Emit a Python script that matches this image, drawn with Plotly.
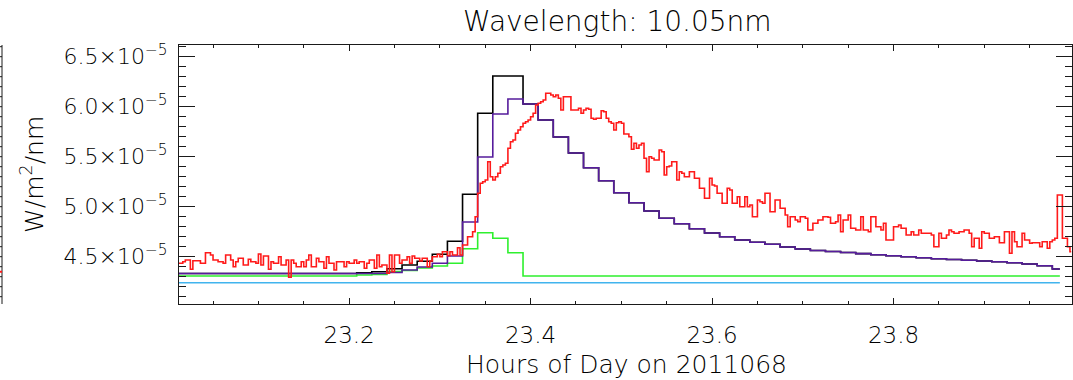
import numpy as np
import plotly.graph_objects as go

# ---------------------------------------------------------------
# Irradiance at 10.05 nm, 2011 day 068, last hour of the day.
# Values are in units of 1e-5 W/m^2/nm.
# ---------------------------------------------------------------
UNIT = 1e-5

# 10-second measurements (red), first sample at 23:00:45
red_t0 = 23.0125
red_dt = 10.0 / 3600.0
red_vals = [
    4.434, 4.434, 4.450, 4.467, 4.467, 4.374, 4.460, 4.460, 4.460, 4.434,
    4.434, 4.540, 4.540, 4.517, 4.467, 4.467, 4.450, 4.450, 4.434, 4.517,
    4.517, 4.467, 4.400, 4.450, 4.484, 4.484, 4.417, 4.417, 4.474, 4.450,
    4.450, 4.434, 4.527, 4.417, 4.507, 4.507, 4.374, 4.450, 4.434, 4.434,
    4.500, 4.417, 4.417, 4.467, 4.294, 4.467, 4.434, 4.400, 4.400, 4.450,
    4.400, 4.467, 4.517, 4.400, 4.400, 4.484, 4.450, 4.450, 4.384, 4.500,
    4.434, 4.434, 4.367, 4.450, 4.450, 4.450, 4.400, 4.450, 4.434, 4.434,
    4.467, 4.434, 4.450, 4.450, 4.384, 4.434, 4.467, 4.467, 4.384, 4.517,
    4.400, 4.417, 4.417, 4.334, 4.517, 4.350, 4.517, 4.517, 4.434, 4.467,
    4.467, 4.500, 4.434, 4.507, 4.484, 4.484, 4.457, 4.484, 4.484, 4.400,
    4.457, 4.500, 4.500, 4.524, 4.500, 4.550, 4.550, 4.510, 4.550, 4.517,
    4.517, 4.590, 4.517, 4.617, 4.617, 4.700, 4.700, 4.750, 4.900, 5.134,
    5.234, 5.250, 5.267, 5.450, 5.300, 5.267, 5.300, 5.334, 5.400, 5.417,
    5.434, 5.584, 5.650, 5.667, 5.734, 5.767, 5.800, 5.834, 5.850, 5.867,
    5.900, 5.934, 6.017, 6.034, 6.050, 6.067, 6.134, 6.134, 6.117, 6.100,
    6.117, 6.084, 5.967, 6.100, 6.100, 6.100, 5.967, 5.967, 5.967, 5.984,
    5.934, 5.967, 5.984, 5.974, 5.884, 5.874, 5.884, 5.884, 5.960, 5.950,
    5.884, 5.850, 5.834, 5.767, 5.840, 5.850, 5.834, 5.727, 5.727, 5.700,
    5.574, 5.634, 5.584, 5.617, 5.634, 5.484, 5.350, 5.500, 5.484, 5.467,
    5.467, 5.567, 5.550, 5.317, 5.400, 5.407, 5.450, 5.450, 5.267, 5.350,
    5.334, 5.300, 5.300, 5.350, 5.350, 5.284, 5.284, 5.184, 5.184, 5.084,
    5.084, 5.284, 5.217, 5.207, 5.134, 5.134, 5.034, 5.034, 5.184, 5.167,
    5.034, 5.034, 5.100, 5.000, 5.000, 5.100, 5.000, 5.017, 4.900, 4.900,
    5.067, 5.050, 5.034, 5.134, 5.134, 4.950, 4.950, 5.067, 5.067, 4.984,
    4.984, 4.917, 4.800, 4.900, 4.900, 4.867, 4.850, 4.900, 4.900, 4.884,
    4.767, 4.767, 4.834, 4.834, 4.867, 4.867, 4.900, 4.900, 4.894, 4.834,
    4.834, 4.850, 4.917, 4.750, 4.867, 4.867, 4.917, 4.784, 4.784, 4.767,
    4.767, 4.900, 4.767, 4.767, 4.750, 4.900, 4.900, 4.800, 4.800, 4.767,
    4.834, 4.667, 4.667, 4.667, 4.800, 4.800, 4.817, 4.784, 4.784, 4.717,
    4.717, 4.750, 4.717, 4.717, 4.767, 4.734, 4.734, 4.734, 4.734, 4.717,
    4.600, 4.600, 4.734, 4.684, 4.684, 4.717, 4.767, 4.750, 4.734, 4.734,
    4.750, 4.750, 4.767, 4.767, 4.734, 4.600, 4.684, 4.684, 4.584, 4.750,
    4.734, 4.734, 4.684, 4.684, 4.700, 4.700, 4.640, 4.640, 4.750, 4.750,
    4.534, 4.750, 4.650, 4.600, 4.600, 4.734, 4.667, 4.667, 4.634, 4.640,
    4.640, 4.640, 4.600, 4.650, 4.650, 4.584, 4.650, 4.667, 4.684, 5.117,
    5.117, 4.684, 4.684, 4.600, 4.550,
]

# One-minute series, 23:00 ... 23:59
min_t0 = 23.0
min_dt = 1.0 / 60.0
black_vals = [
    4.332, 4.332, 4.332, 4.332, 4.332, 4.332, 4.332, 4.332, 4.332, 4.332,
    4.332, 4.332, 4.332, 4.340, 4.350, 4.379, 4.417, 4.454, 4.525, 4.654,
    5.124, 5.934, 6.307, 6.307, 6.027, 5.867, 5.697, 5.537, 5.390, 5.260,
    5.140, 5.040, 4.957, 4.884, 4.830, 4.780, 4.737, 4.700, 4.667, 4.644,
    4.624, 4.597, 4.577, 4.562, 4.552, 4.542, 4.531, 4.519, 4.509, 4.499,
    4.489, 4.480, 4.472, 4.464, 4.457, 4.450, 4.440, 4.427, 4.410, 4.377,
]
purple_vals = [
    4.332, 4.332, 4.332, 4.332, 4.332, 4.332, 4.332, 4.332, 4.332, 4.332,
    4.332, 4.332, 4.332, 4.332, 4.332, 4.342, 4.367, 4.397, 4.434, 4.507,
    4.847, 5.497, 5.927, 6.077, 6.027, 5.867, 5.697, 5.537, 5.390, 5.260,
    5.140, 5.040, 4.957, 4.884, 4.830, 4.780, 4.737, 4.700, 4.667, 4.644,
    4.624, 4.597, 4.577, 4.562, 4.552, 4.542, 4.531, 4.519, 4.509, 4.499,
    4.489, 4.480, 4.472, 4.464, 4.457, 4.450, 4.440, 4.427, 4.410, 4.377,
]
green_vals = [
    4.307, 4.307, 4.307, 4.307, 4.307, 4.307, 4.307, 4.307, 4.307, 4.307,
    4.307, 4.307, 4.307, 4.317, 4.322, 4.352, 4.362, 4.387, 4.407, 4.434,
    4.580, 4.740, 4.684, 4.540, 4.307, 4.307, 4.307, 4.307, 4.307, 4.307,
    4.307, 4.307, 4.307, 4.307, 4.307, 4.307, 4.307, 4.307, 4.307, 4.307,
    4.307, 4.307, 4.307, 4.307, 4.307, 4.307, 4.307, 4.307, 4.307, 4.307,
    4.307, 4.307, 4.307, 4.307, 4.307, 4.307, 4.307, 4.307, 4.307, 4.307,
]
cyan_vals = [
    4.239, 4.239, 4.239, 4.239, 4.239, 4.239, 4.239, 4.239, 4.239, 4.239,
    4.239, 4.239, 4.239, 4.239, 4.239, 4.239, 4.239, 4.239, 4.239, 4.239,
    4.239, 4.239, 4.239, 4.239, 4.239, 4.239, 4.239, 4.239, 4.239, 4.239,
    4.239, 4.239, 4.239, 4.239, 4.239, 4.239, 4.239, 4.239, 4.239, 4.239,
    4.239, 4.239, 4.239, 4.239, 4.239, 4.239, 4.239, 4.239, 4.239, 4.239,
    4.239, 4.239, 4.239, 4.239, 4.239, 4.239, 4.239, 4.239, 4.239, 4.239,
]

x_tick_vals = [23.2, 23.4, 23.6, 23.8]
x_tick_text = ["23.2", "23.4", "23.6", "23.8"]
y_tick_vals = [4.5e-5, 5.0e-5, 5.5e-5, 6.0e-5, 6.5e-5]
y_tick_text = ["4.5×10<sup>−5</sup>", "5.0×10<sup>−5</sup>", "5.5×10<sup>−5</sup>",
               "6.0×10<sup>−5</sup>", "6.5×10<sup>−5</sup>"]

x_range = [23.0125, 23.9967]
y_range = [4.027e-5, 6.617e-5]

# ---------------------------------------------------------------
W, H = 1073, 380
PLOT_L, PLOT_R, PLOT_T, PLOT_B = 179, 1072, 45, 304
FONT = "DejaVu Sans"
FONT_WEIGHT = 200
INK = "#1a1a1a"

red_t = red_t0 + red_dt * np.arange(len(red_vals))
min_t = min_t0 + min_dt * np.arange(len(purple_vals))

fig = go.Figure()

series = [
    (min_t, cyan_vals, "#41b4ee"),
    (min_t, green_vals, "#2ef02e"),
    (min_t, black_vals, "#000000"),
    (min_t, purple_vals, "#561c9c"),
    (red_t, red_vals, "#ff1a1a"),
]
for t, vals, col in series:
    fig.add_trace(go.Scatter(
        x=t, y=np.asarray(vals) * UNIT, mode="lines",
        line=dict(color=col, width=1.6, shape="hvh"),
        hoverinfo="skip", showlegend=False,
    ))

paper_w = W - (W - PLOT_R)
dom_x0 = PLOT_L / paper_w
plot_h = PLOT_B - PLOT_T


def px_x(px):
    return px / paper_w


def px_y(py):
    return (PLOT_B - py) / plot_h


def txt_font(size):
    return dict(family=FONT, size=size, weight=FONT_WEIGHT, color="#000")


fig.update_layout(
    width=W, height=H,
    margin=dict(l=0, r=W - PLOT_R, t=PLOT_T, b=H - PLOT_B, pad=0),
    paper_bgcolor="white", plot_bgcolor="white",
    font=txt_font(22),
    showlegend=False,
    xaxis=dict(
        domain=[dom_x0, 1.0], range=x_range,
        tickmode="array", tickvals=x_tick_vals, ticktext=x_tick_text,
        ticks="inside", ticklen=6, tickwidth=1, tickcolor=INK,
        showline=True, linecolor=INK, linewidth=1, mirror="ticks",
        showgrid=False, zeroline=False, ticklabelstandoff=10,
        tickfont=txt_font(23),
        minor=dict(dtick=0.05, tick0=23.0, ticks="inside", ticklen=3,
                   tickwidth=1, tickcolor=INK, showgrid=False),
    ),
    yaxis=dict(
        range=y_range,
        tickmode="array", tickvals=y_tick_vals, ticktext=y_tick_text,
        ticks="inside", ticklen=16, tickwidth=1, tickcolor=INK,
        showline=True, linecolor=INK, linewidth=1, mirror="ticks",
        showgrid=False, zeroline=False, ticklabelstandoff=6,
        tickfont=txt_font(22),
        minor=dict(dtick=1e-6, tick0=0, ticks="inside", ticklen=7,
                   tickwidth=1, tickcolor=INK, showgrid=False),
    ),
    annotations=[
        dict(text="Wavelength: 10.05nm", xref="paper", yref="paper",
             x=px_x(617), y=px_y(22), xanchor="center", yanchor="middle",
             showarrow=False, font=txt_font(28)),
        dict(text="Hours of Day on 2011068", xref="paper", yref="paper",
             x=px_x(626), y=px_y(364), xanchor="center", yanchor="middle",
             showarrow=False, font=txt_font(25)),
        dict(text="W/m<sup>2</sup>/nm", xref="paper", yref="paper",
             x=px_x(32), y=px_y(175), xanchor="center", yanchor="middle",
             textangle=-90, showarrow=False, font=txt_font(25)),
    ],
)

# Right-hand frame of the neighbouring panel, cut off at the left edge
edge_shapes = [dict(type="line", xref="paper", yref="paper",
                    x0=px_x(2), x1=px_x(2), y0=0, y1=1,
                    line=dict(color=INK, width=1))]
for v in np.arange(41e-6, 66.5e-6, 1e-6):
    edge_shapes.append(dict(type="line", xref="paper", yref="y",
                            x0=0, x1=px_x(2), y0=v, y1=v,
                            line=dict(color=INK, width=1)))
edge_shapes.append(dict(type="line", xref="paper", yref="y",
                        x0=0, x1=px_x(2), y0=4.35e-5, y1=4.35e-5,
                        line=dict(color="#ff1a1a", width=2)))
fig.update_layout(shapes=edge_shapes)

fig.write_html("out.html", config={"displayModeBar": False},
               post_script="document.body.style.margin='0';")
